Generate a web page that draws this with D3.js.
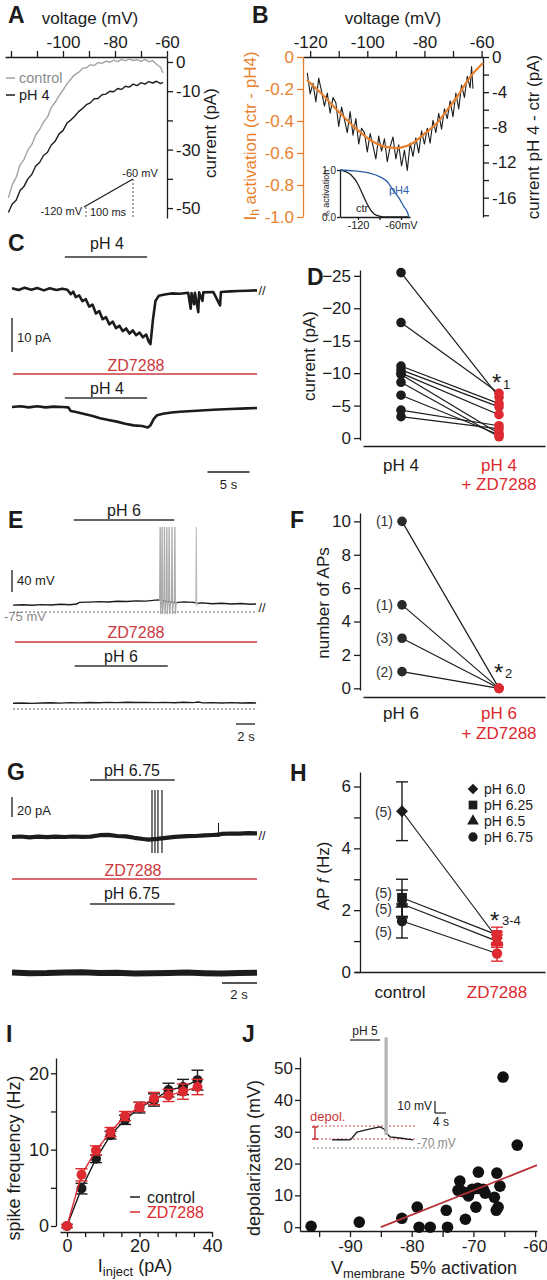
<!DOCTYPE html>
<html><head><meta charset="utf-8">
<script src="https://cdn.jsdelivr.net/npm/d3@7/dist/d3.min.js"></script>
<style>html,body{margin:0;padding:0;background:#fff}svg{display:block}</style>
</head><body>
<svg id="fig" width="547" height="1280"></svg>
<script>
// ================= DATA =================
// Panel A : ramp currents (voltage mV, current pA)
const aVoltage = [-121,-119.5,-118,-116.5,-115,-113.5,-112,-110.5,-109,-107.5,-106,-104.5,-103,-101.5,-100,-98.5,-97,-95.5,-94,-92.5,-91,-89.5,-88,-86.5,-85,-83.5,-82,-80.5,-79,-77.5,-76,-74.5,-73,-71.5,-70,-68.5,-67,-65.5,-64,-62.5,-61.5];
const aControl = [-46.5,-42.0,-39.5,-35.2,-33.4,-30.1,-28.3,-25.0,-23.1,-20.6,-18.9,-15.6,-13.8,-11.5,-9.6,-7.5,-5.9,-4.3,-3.6,-2.2,-2.0,-1.0,-1.2,-0.2,-0.5,0.3,-0.1,0.6,0.1,0.9,0.4,1.0,0.5,0.8,0.2,0.9,0.1,0.4,-0.8,-1.8,-3.8];
const aPH4 = [-51.5,-48.6,-47.3,-44.0,-42.6,-40.0,-38.5,-35.6,-34.4,-32.0,-31.0,-28.4,-27.1,-24.6,-23.5,-21.0,-19.9,-18.6,-17.0,-15.9,-14.6,-14.0,-12.6,-12.5,-11.2,-11.0,-10.0,-10.2,-9.1,-9.4,-8.3,-8.6,-7.6,-8.1,-7.1,-7.6,-6.7,-7.2,-6.6,-7.4,-7.0];
const aTicksV = [-120,-110,-100,-90,-80,-70,-60], aLabelsV = [-100,-80,-60];
const aTicksI = [0,-10,-20,-30,-40,-50], aLabelsI = [0,-10,-30,-50];
const aRampT = [0,100], aRampV = [-120,-60];

// Panel B : difference current and Ih activation fit
const bVoltage = [-121,-120,-119,-118,-117,-116,-115,-114,-113,-112,-111,-110,-109,-108,-107,-106,-105,-104,-103,-102,-101,-100,-99,-98,-97,-96,-95,-94,-93,-92,-91,-90,-89,-88,-87,-86,-85,-84,-83,-82,-81,-80,-79,-78,-77,-76,-75,-74,-73,-72,-71,-70,-69,-68,-67,-66,-65,-64,-63.5,-63];
const bDiff = [-1.8,-4.2,-3.0,-5.1,-2.4,-3.9,-5.6,-4.1,-6.4,-4.6,-5.2,-7.9,-5.7,-7.1,-8.6,-6.2,-8.9,-7.0,-9.9,-8.1,-8.6,-10.8,-8.7,-10.1,-11.6,-9.0,-10.7,-9.3,-11.9,-10.2,-9.1,-11.6,-10.0,-12.4,-10.6,-12.9,-9.8,-11.3,-9.2,-10.9,-8.4,-9.9,-8.1,-9.8,-7.2,-8.6,-6.4,-8.2,-5.9,-7.0,-5.0,-6.8,-4.1,-5.9,-3.2,-4.6,-2.2,-3.5,-1.1,-3.6];
const bFitV = [-121.1,-116,-110.6,-105,-99,-94,-89.6,-86,-84,-80,-75.6,-72,-68.6,-64,-59.5];
const bFitAct = [-0.144,-0.23,-0.331,-0.43,-0.519,-0.56,-0.569,-0.555,-0.5375,-0.48,-0.4125,-0.33,-0.25,-0.125,-0.0375];
const bTicksV = [-120,-110,-100,-90,-80,-70,-60], bLabelsV = [-120,-100,-80,-60];
const bTicksAct = [0,-0.2,-0.4,-0.6,-0.8,-1.0];
const bTicksI = [0,-2,-4,-6,-8,-10,-12,-14,-16,-18], bLabelsI = [0,-4,-8,-12,-16];
const bInsCtrV = [-145,-140,-130,-122,-116,-112,-107,-102,-97,-90,-80,-50];
const bInsCtr  = [1,0.98,0.9,0.75,0.57,0.43,0.27,0.14,0.06,0.02,0,0];
const bInsPH4V = [-145,-125,-103,-90,-79,-71,-66,-61,-56,-51,-49];
const bInsPH4  = [1,0.98,0.93,0.86,0.75,0.57,0.47,0.36,0.22,0.1,0];

// Panel C : current traces [time s, current pA]
const cTrace1 = [[0,0.2],[0.8,-0.3],[1.5,0.4],[2.3,-0.2],[3.0,0.3],[3.8,-0.4],[4.5,0.2],[5.3,-0.3],[6.0,0.1],[6.6,-0.2],[7.0,-1.5],[7.3,-0.8],[7.6,-2.4],[8.0,-1.9],[8.4,-3.6],[8.8,-3.0],[9.2,-5.2],[9.6,-4.6],[10.0,-7.2],[10.4,-6.5],[10.8,-8.9],[11.2,-8.3],[11.6,-10.4],[12.0,-9.6],[12.4,-11.5],[12.8,-10.8],[13.2,-12.4],[13.6,-11.6],[14.0,-13.1],[14.4,-12.2],[14.8,-13.6],[15.2,-12.8],[15.6,-14.2],[16.0,-13.4],[16.3,-15.5],[16.5,-16.2],[16.8,-9],[17.1,-3.5],[17.5,-2.0],[18.2,-1.6],[19,-1.3],[20,-1.4],[21,-1.1],[21.3,-5.8],[21.4,-1.2],[21.7,-4.5],[21.8,-1.1],[22.2,-6.8],[22.3,-1.0],[22.7,-3.5],[22.8,-1.0],[24,-0.9],[24.8,-4.8],[24.9,-0.9],[26,-0.7],[27,-0.6],[28,-0.5],[29.2,-0.4]];
const cTrace2 = [[0,0],[1,0.2],[2,-0.1],[3,0.2],[4,-0.1],[5,0.1],[6,0],[6.7,-0.1],[7.0,-1.2],[7.5,-1.4],[8.5,-2.0],[9.5,-2.6],[10.5,-3.3],[11.5,-3.8],[12.5,-4.3],[13.5,-4.9],[14.5,-5.4],[15.5,-5.6],[16.2,-6.0],[16.5,-5.4],[16.9,-3.5],[17.3,-2.4],[18,-2.0],[19,-1.6],[20,-1.4],[22,-1.1],[24,-0.8],[26,-0.6],[28,-0.4],[29.2,-0.3]];
const cBar1 = [6.3,16.1], cBar2 = [6.3,16.1];

// Panel D : pH 4 current vs pH 4 + ZD7288 (pA)
const dCategories = ["pH 4","pH 4 + ZD7288"];
const dPH4 = [-25.5,-17.8,-11.1,-10.5,-10.0,-9.8,-8.6,-6.6,-4.3,-3.3];
const dZD  = [-6.3,-6.9,-5.3,-4.8,-3.6,-0.7,-0.2,-0.5,-1.9,-1.4];
const dTicks = [0,-5,-10,-15,-20,-25];

// Panel E : voltage traces [time s, mV]
const eTrace1 = [[0,-62.5],[1,-61.8],[2,-62.6],[3,-61.5],[4,-62.2],[5,-61.0],[6,-61.7],[6.7,-60.5],[7.0,-57.5],[8,-57.0],[9,-56.2],[10,-56.8],[11,-55.5],[12,-55.9],[13,-54.8],[14,-55.3],[15,-53.5],[15.4,-53],[16.2,-56],[17.2,-58],[18,-56.5],[19,-57.5],[19.5,-59],[20,-58.5],[21,-60],[22,-59.2],[23,-60.5],[24,-59.6],[25,-61],[25.6,-60.5]];
const eSpikes1 = [15.5,15.7,15.95,16.2,16.45,16.75,17.05], eSpikeLate = [19.3];
const eTrace2 = [[0,-64.5],[1,-64.0],[2,-64.8],[3,-64.2],[4,-63.6],[5,-64.3],[6,-63.5],[7,-63.9],[8,-63.2],[9,-63.6],[10,-62.9],[11,-63.4],[12,-62.8],[13,-63.3],[14,-62.9],[15,-63.5],[16,-63.0],[17,-63.6],[18,-62.8],[19,-63.5],[19.5,-62.2],[20,-63.8],[21,-63.4],[22,-64.0],[23,-63.5],[24,-64.1],[25,-63.7],[25.6,-64.2]];
const eBar1 = [6.4,17.0], eBar2 = [6.5,16.3];

// Panel F : number of APs
const fCategories = ["pH 6","pH 6 + ZD7288"];
const fPH6 = [10,5,3,1], fZD = [0,0,0,0], fN = ["(1)","(1)","(3)","(2)"];
const fTicks = [0,2,4,6,8,10];

// Panel G : current traces [time s, pA]
const gTrace1 = [[0,0],[0.5,0.5],[1,-0.3],[1.5,0.4],[2,-0.2],[2.5,0.3],[3,0],[3.5,0.5],[4,0.2],[4.5,0.4],[5,1.8],[5.5,2.2],[6,1.0],[6.5,0.6],[7,-0.8],[7.5,-2.0],[7.8,-2.6],[8.3,-1.8],[8.8,-0.8],[9.3,0.2],[10,0.8],[10.5,1.0],[11,1.6],[11.5,2.0],[11.8,2.3],[12,3.2],[12.5,3.5],[13,3.3],[13.5,3.8],[14,3.6]];
const gSpikes = [8.0,8.17,8.34,8.57], gSmallSpike = [11.8];
const gTrace2 = [[0,0.5],[1,-0.2],[2,0],[3,0.6],[4,0.8],[5,0.1],[6,0.2],[7,-0.4],[8,-0.3],[9,0.1],[10,0.4],[11,-0.2],[12,-0.5],[13,0],[14,0.3]];
const gBar1 = [4.46,9.3], gBar2 = [4.46,9.3];

// Panel H : AP frequency (Hz)
const hCategories = ["control","ZD7288"];
const hGroups = ["pH 6.0","pH 6.25","pH 6.5","pH 6.75"];
const hShapes = ["diamond","square","triangle","circle"];
const hCtrl = [5.2,2.4,2.2,1.65], hCtrlErr = [0.95,0.6,0.45,0.55];
const hZD = [1.1,1.2,1.0,0.6], hZDErr = [0.2,0.25,0.2,0.25];
const hN = ["(5)","(5)","(5)","(5)"];
const hTicks = [0,1,2,3,4,5,6], hLabels = [0,2,4,6];

// Panel I : f-I curves
const iCurrent = [0,4,8,12,16,20,24,28,32,36];
const iCtrl = [0,4.9,8.8,11.9,13.9,15.5,16.5,17.8,18.2,19.1];
const iCtrlErr = [0.2,0.7,0.5,0.5,0.6,0.7,0.8,0.9,1.0,1.3];
const iZD = [0,6.7,9.9,12.3,14.4,15.6,16.7,17.1,17.6,18.2];
const iZDErr = [0.2,0.8,0.6,0.6,0.6,0.6,0.8,0.8,1.0,1.0];
const iTicksX = [0,5,10,15,20,25,30,35,40], iLabelsX = [0,20,40];
const iTicksY = [0,5,10,15,20], iLabelsY = [0,10,20];

// Panel J : depolarization vs V 5% activation
const jV = [-96.3,-88.5,-81.6,-79.1,-78.8,-77,-74.4,-74.2,-72.2,-72.5,-71.3,-71,-69.2,-69.6,-70.2,-68.4,-68.1,-69.3,-66.2,-66.6,-66.3,-66,-65.7,-62.9,-65.2,-70.8,-71.8];
const jDep = [0.3,1.6,2.8,6.3,0,0,5.3,0,14.5,11.6,2.5,10.7,17.3,6.3,11.9,11.9,10.7,12.2,17,9.4,5.3,6.3,12.9,25.8,47.2,9.8,11.2];
const jFitV = [-85,-59.7], jFitDep = [0,19.5];
const jTicksX = [-95,-90,-85,-80,-75,-70,-65,-60], jLabelsX = [-90,-80,-70,-60];
const jTicksY = [0,10,20,30,40,50];
const jInsTrace = [[0,-63.8],[3,-63.6],[7.2,-63.8],[8,-62.3],[10,-57.7],[13.2,-56.2],[17.2,-54.6],[19.2,-53.8],[20.8,-55.4],[21.6,-58],[23.2,-61.5],[27.2,-62.3],[32.4,-63.8]];
const jInsSpikes = [21.4,21.9], jInsBar = [7.2,19.2];

// ================= DRAW =================
const svg = d3.select("#fig");
svg.append("rect").attr("width",547).attr("height",1280).attr("fill","#fff");
const FONT = '"Liberation Sans", Arial, Helvetica, sans-serif';
const INK = "#1c1c1c", RED = "#dd2a30", REDL = "#cc3940", ORANGE = "#e8812e", BLUE = "#2c5ea8", GRAY = "#9c9c9c";

function T(x, y, s, o = {}) {
  const size = o.size || 17;
  const t = svg.append("text").attr("x", x).attr("y", y)
    .attr("font-family", FONT).attr("font-size", size)
    .attr("fill", o.color || INK).attr("text-anchor", o.anchor || "start");
  if (!o.baseline) t.attr("dominant-baseline", "central");
  if (o.bold) t.attr("font-weight", "bold");
  if (o.rot) t.attr("transform", `rotate(${o.rot},${x},${y})`);
  if (Array.isArray(s)) {
    let shifted = 0;
    s.forEach(p => {
      const ts = t.append("tspan").text(p.t);
      if (p.sub) { ts.attr("font-size", p.fs || size * 0.7).attr("dy", (p.dy || 5) - shifted); shifted = p.dy || 5; }
      else if (shifted) { ts.attr("dy", -shifted); shifted = 0; }
      if (p.it) ts.attr("font-style", "italic");
    });
  } else t.text(s);
  return t;
}
function axis(gen, tx, ty, color = INK, size = 17) {
  const g = svg.append("g").attr("transform", `translate(${tx},${ty})`).call(gen)
    .attr("font-family", FONT).attr("font-size", size);
  g.select(".domain").attr("stroke", color).attr("stroke-width", 1.3);
  g.selectAll(".tick line").attr("stroke", color).attr("stroke-width", 1.3);
  g.selectAll(".tick text").attr("fill", color);
  return g;
}
const lab = (list, f = String) => d => list.includes(d) ? f(d) : "";
function L(x1, y1, x2, y2, color = INK, w = 1.3, dash) {
  const l = svg.append("line").attr("x1", x1).attr("y1", y1).attr("x2", x2).attr("y2", y2)
    .attr("stroke", color).attr("stroke-width", w);
  if (dash) l.attr("stroke-dasharray", dash);
  return l;
}
function P(d, color = INK, w = 1.3) {
  return svg.append("path").attr("d", d).attr("fill", "none").attr("stroke", color)
    .attr("stroke-width", w).attr("stroke-linejoin", "round");
}
const lineXY = (xs, ys, sx, sy, curve = d3.curveLinear) =>
  d3.line().x((d, i) => sx(xs[i])).y((d, i) => sy(ys[i])).curve(curve)(xs);
const linePairs = (pts, sx, sy) => d3.line().x(d => sx(d[0])).y(d => sy(d[1]))(pts);

// ---------- Panel A ----------
T(8, 15, "A", {size: 23, bold: true});
T(90, 18, "voltage (mV)", {anchor: "middle"});
const aX = d3.scaleLinear([-122.3, -60], [5, 167]);
const aY = d3.scaleLinear([1.7, -53.4], [57, 218]);
axis(d3.axisTop(aX).tickValues(aTicksV).tickFormat(lab(aLabelsV)).tickSize(6).tickSizeOuter(0), 0, 57);
axis(d3.axisRight(aY).tickValues(aTicksI).tickFormat(lab(aLabelsI)).tickSize(6).tickSizeOuter(0), 167, 0);
T(210, 133, "current (pA)", {anchor: "middle", rot: -90});
P(lineXY(aVoltage, aControl, aX, aY), "#a3a3a3", 1.4);
P(lineXY(aVoltage, aPH4, aX, aY), INK, 1.4);
L(6, 78, 15, 78, "#a3a3a3", 1.5); T(19, 78, "control", {color: "#8c8c8c", size: 14.5});
L(6, 95, 15, 95, INK, 1.5); T(19, 95, "pH 4", {size: 14.5});
// voltage ramp protocol inset
const rX = d3.scaleLinear([0, 100], [84, 133]);
const rY = d3.scaleLinear([-120, -60], [207, 179]);
P(lineXY(aRampT, aRampV, rX, rY), INK, 1.2);
L(rX(100), rY(-60), rX(100), 217, "#555", 1, "2,2");
L(rX(0) + 2, rY(-120), rX(0) + 2, 217, "#555", 1, "2,2");
T(140, 173, "-60 mV", {size: 11, anchor: "middle"});
T(82, 211, "-120 mV", {size: 11, anchor: "end"});
T(90, 212, "100 ms", {size: 11});

// ---------- Panel B ----------
T(252, 15, "B", {size: 23, bold: true});
T(393, 18, "voltage (mV)", {anchor: "middle"});
const bX = d3.scaleLinear([-122.5, -59.5], [303, 483]);
const bA = d3.scaleLinear([0, -1], [57, 217]);
const bI = d3.scaleLinear([0, -18.2], [57, 217]);
axis(d3.axisTop(bX).tickValues(bTicksV).tickFormat(lab(bLabelsV)).tickSize(6).tickSizeOuter(0), 0, 57);
axis(d3.axisLeft(bA).tickValues(bTicksAct).tickFormat(d => d === 0 ? "0" : d.toFixed(1)).tickSize(6).tickSizeOuter(0), 303, 0, ORANGE);
axis(d3.axisRight(bI).tickValues(bTicksI).tickFormat(lab(bLabelsI)).tickSize(6).tickSizeOuter(0), 483, 0);
T(250, 136, [{t: "I"}, {t: "h", sub: true, fs: 12}, {t: " activation (ctr - pH4)"}], {anchor: "middle", rot: -90, color: ORANGE});
T(533, 137, "current pH 4 - ctr (pA)", {anchor: "middle", rot: -90});
P(lineXY(bVoltage, bDiff, bX, bI), INK, 1.1);
P(lineXY(bFitV, bFitAct, bX, bA, d3.curveMonotoneX), ORANGE, 2.2);
// inset
const ibX = d3.scaleLinear([-145.1, -47.4], [340, 410]);
const ibY = d3.scaleLinear([0, 1], [217, 170]);
axis(d3.axisLeft(ibY).tickValues([0, 1]).tickSize(3).tickPadding(1).tickSizeOuter(0), 340, 0, INK, 10);
axis(d3.axisBottom(ibX).tickValues([-120, -90, -60]).tickFormat(d => d === -120 ? "-120" : d === -60 ? "-60mV" : "").tickSize(3).tickPadding(1).tickSizeOuter(0), 0, 217, INK, 11);
P(lineXY(bInsCtrV, bInsCtr, ibX, ibY, d3.curveMonotoneX), INK, 1.3);
P(lineXY(bInsPH4V, bInsPH4, ibX, ibY, d3.curveMonotoneX), BLUE, 1.3);
T(326, 193, [{t: "I"}, {t: "h", sub: true, fs: 6, dy: 2}, {t: " activation"}], {size: 9, anchor: "middle", rot: -90});
T(362, 208, "ctr", {size: 11, anchor: "middle"});
T(399, 190, "pH4", {size: 11, anchor: "middle", color: BLUE});

// ---------- Panel C ----------
T(8, 243, "C", {size: 23, bold: true});
const cX = d3.scaleLinear([0, 29.2], [12, 257]);
const cY1 = d3.scaleLinear([0, -10], [289, 323]);
const cY2 = d3.scaleLinear([0, -10], [407, 441]);
T(107, 243, "pH 4", {anchor: "middle", size: 16});
L(cX(cBar1[0]), 257, cX(cBar1[1]), 257, "#333", 1.3);
P(linePairs(cTrace1, cX, cY1), INK, 2.6);
T(262, 290, "//", {size: 13, anchor: "middle"});
L(12, 318, 12, 352, INK, 1.3);
T(17, 337, "10 pA", {size: 13});
T(136, 365, "ZD7288", {anchor: "middle", size: 16, color: REDL});
L(13, 374, 257, 374, REDL, 1.4);
T(107, 388, "pH 4", {anchor: "middle", size: 16});
L(cX(cBar2[0]), 398, cX(cBar2[1]), 398, "#333", 1.3);
P(linePairs(cTrace2, cX, cY2), INK, 2.6);
L(cX(23.3), 472, cX(28.3), 472, INK, 1.3);
T(cX(25.8), 484, "5 s", {size: 13, anchor: "middle"});

// ---------- Panel D ----------
T(307, 277, "D", {size: 23, bold: true});
const dY = d3.scaleLinear([0.3, -25.9], [440, 270]);
const dXc = d3.scalePoint(dCategories, [401, 499]);
axis(d3.axisLeft(dY).tickValues(dTicks).tickSize(6).tickSizeOuter(0), 360, 0);
axis(d3.axisBottom(d3.scaleLinear([0, 1], [363, 545])).tickValues([]).tickSizeOuter(0), 0, 446);
T(309, 356, "current (pA)", {anchor: "middle", rot: -90});
dPH4.forEach((v, i) => L(dXc(dCategories[0]), dY(v), dXc(dCategories[1]), dY(dZD[i]), INK, 1.2));
svg.append("g").selectAll("circle").data(dPH4).join("circle").attr("cx", dXc(dCategories[0])).attr("cy", d => dY(d)).attr("r", 4.8).attr("fill", INK);
svg.append("g").selectAll("circle").data(dZD).join("circle").attr("cx", dXc(dCategories[1])).attr("cy", d => dY(d)).attr("r", 4.8).attr("fill", RED);
T(401, 465, "pH 4", {anchor: "middle"});
T(499, 465, "pH 4", {anchor: "middle", color: RED});
T(499, 484, "+ ZD7288", {anchor: "middle", color: RED});
T(492, 391, "*", {size: 24, baseline: true});
T(503, 389, "1", {size: 13, baseline: true});

// ---------- Panel E ----------
T(8, 520, "E", {size: 23, bold: true});
const eX = d3.scaleLinear([0, 25.7], [13, 257]);
const eY1 = d3.scaleLinear([-75, -35], [612, 590]);
const eY2 = d3.scaleLinear([-75, -35], [709, 687]);
T(124, 510, "pH 6", {anchor: "middle", size: 16});
L(eX(eBar1[0]), 520, eX(eBar1[1]), 520, "#333", 1.3);
L(12, 570, 12, 592, INK, 1.3);
T(17, 580, "40 mV", {size: 13});
L(13, 612, 257, 612, "#999", 1.3, "2,2");
P(linePairs(eTrace1, eX, eY1), INK, 1.4);
const spike = (t, base, peak, trough, sx, sy) =>
  `M${sx(t - 0.05)},${sy(base)}L${sx(t)},${sy(peak)}L${sx(t + 0.05)},${sy(trough)}L${sx(t + 0.15)},${sy(base)}`;
eSpikes1.forEach(t => P(spike(t, -56, 79, -78, eX, eY1), "#aaa", 1.3));
eSpikeLate.forEach(t => P(spike(t, -58, 79, -64, eX, eY1), "#bbb", 1.1));
T(4, 616, "-75 mV", {size: 13, color: "#888"});
T(262, 607, "//", {size: 13, anchor: "middle"});
T(136, 632, "ZD7288", {anchor: "middle", size: 16, color: REDL});
L(15, 642, 257, 642, REDL, 1.4);
T(121, 656, "pH 6", {anchor: "middle", size: 16});
L(eX(eBar2[0]), 666, eX(eBar2[1]), 666, "#333", 1.3);
L(13, 709, 257, 709, "#999", 1.3, "2,2");
P(linePairs(eTrace2, eX, eY2), INK, 1.4);
L(236, 724, 255, 724, INK, 1.3);
T(246, 736, "2 s", {size: 13, anchor: "middle"});

// ---------- Panel F ----------
T(290, 520, "F", {size: 23, bold: true});
const fY = d3.scaleLinear([-0.1, 10.5], [690, 513]);
const fXc = d3.scalePoint(fCategories, [402, 499]);
axis(d3.axisLeft(fY).tickValues(fTicks).tickSize(6).tickSizeOuter(0), 360, 0);
axis(d3.axisBottom(d3.scaleLinear([0, 1], [363, 545])).tickValues([]).tickSizeOuter(0), 0, 697);
T(323, 603, "number of APs", {anchor: "middle", rot: -90});
fPH6.forEach((v, i) => L(fXc(fCategories[0]), fY(v), fXc(fCategories[1]), fY(fZD[i]), INK, 1.2));
svg.append("g").selectAll("circle").data(fPH6).join("circle").attr("cx", fXc(fCategories[0])).attr("cy", d => fY(d)).attr("r", 4.8).attr("fill", "#2a2a2a");
svg.append("g").selectAll("circle").data(fZD).join("circle").attr("cx", fXc(fCategories[1])).attr("cy", d => fY(d)).attr("r", 4.8).attr("fill", RED);
fPH6.forEach((v, i) => T(393, fY(v), fN[i], {size: 14, anchor: "end", color: "#333"}));
T(401, 713, "pH 6", {anchor: "middle"});
T(499, 713, "pH 6", {anchor: "middle", color: RED});
T(499, 733, "+ ZD7288", {anchor: "middle", color: RED});
T(494, 681, "*", {size: 24, baseline: true});
T(505, 678, "2", {size: 13, baseline: true});

// ---------- Panel G ----------
T(7, 772, "G", {size: 23, bold: true});
const gX = d3.scaleLinear([0, 14], [12, 257]);
const gY1 = d3.scaleLinear([0, 20], [837, 817]);
const gY2 = d3.scaleLinear([0, 20], [973, 953]);
T(132, 770, "pH 6.75", {anchor: "middle", size: 16});
L(gX(gBar1[0]), 780, gX(gBar1[1]), 780, "#333", 1.3);
L(12, 797, 12, 817, INK, 1.3);
T(17, 810, "20 pA", {size: 13});
P(linePairs(gTrace1, gX, gY1), INK, 4.2);
gSpikes.forEach(t => L(gX(t), gY1(47), gX(t), gY1(-16), INK, 1.2));
gSmallSpike.forEach(t => L(gX(t), gY1(14), gX(t), gY1(0), INK, 1.1));
T(262, 835, "//", {size: 13, anchor: "middle"});
T(133, 870, "ZD7288", {anchor: "middle", size: 16, color: REDL});
L(12, 879, 257, 879, REDL, 1.4);
T(132, 893, "pH 6.75", {anchor: "middle", size: 16});
L(gX(gBar2[0]), 904, gX(gBar2[1]), 904, "#333", 1.3);
P(linePairs(gTrace2, gX, gY2), INK, 6);
L(222, 983, 257, 983, INK, 1.3);
T(239, 994, "2 s", {size: 13, anchor: "middle"});

// ---------- Panel H ----------
T(290, 773, "H", {size: 23, bold: true});
const hY = d3.scaleLinear([0, 6.47], [972, 772]);
const hXc = d3.scalePoint(hCategories, [402, 497]);
axis(d3.axisLeft(hY).tickValues(hTicks).tickFormat(lab(hLabels)).tickSize(6).tickSizeOuter(0), 360, 0);
axis(d3.axisBottom(d3.scaleLinear([0, 1], [355, 545])).tickValues([]).tickSizeOuter(0), 0, 972);
T(323, 876, [{t: "AP "}, {t: "f", it: true}, {t: " (Hz)"}], {anchor: "middle", rot: -90});
const symType = {diamond: d3.symbolSquare, square: d3.symbolSquare, triangle: d3.symbolTriangle, circle: d3.symbolCircle};
const symSize = {diamond: 70, square: 95, triangle: 75, circle: 85};
function sym(shape, x, y, color, scale = 1) {
  const p = svg.append("path").attr("d", d3.symbol().type(symType[shape]).size(symSize[shape] * scale)())
    .attr("fill", color);
  p.attr("transform", `translate(${x},${y})` + (shape === "diamond" ? " rotate(45)" : ""));
}
function errbar(x, m, e, sy, color) {
  L(x, sy(m - e), x, sy(m + e), color, 1.4);
  L(x - 6, sy(m + e), x + 6, sy(m + e), color, 1.4);
  L(x - 6, sy(m - e), x + 6, sy(m - e), color, 1.4);
}
hCtrl.forEach((v, i) => L(hXc("control"), hY(v), hXc("ZD7288"), hY(hZD[i]), INK, 1.2));
hCtrl.forEach((v, i) => errbar(hXc("control"), v, hCtrlErr[i], hY, INK));
hZD.forEach((v, i) => errbar(hXc("ZD7288"), v, hZDErr[i], hY, RED));
hCtrl.forEach((v, i) => sym(hShapes[i], hXc("control"), hY(v), INK));
hZD.forEach((v, i) => sym(hShapes[i], hXc("ZD7288"), hY(v), RED));
const hNy = [812, 893, 909, 932];
hN.forEach((n, i) => T(392, hNy[i], n, {size: 14, anchor: "end", color: "#333"}));
hGroups.forEach((g, i) => { sym(hShapes[i], 473, 789 + i * 16, INK, 0.8); T(484, 789 + i * 16, g, {size: 14}); });
T(400, 992, "control", {anchor: "middle"});
T(497, 992, "ZD7288", {anchor: "middle", color: RED});
T(490, 929, "*", {size: 24, baseline: true});
T(502, 925, "3-4", {size: 13, baseline: true});

// ---------- Panel I ----------
T(6, 1034, "I", {size: 23, bold: true});
const iX = d3.scaleLinear([-1.93, 40], [60, 212]);
const iY = d3.scaleLinear([0, 22], [1226, 1058]);
axis(d3.axisLeft(iY).tickValues(iTicksY).tickFormat(lab(iLabelsY)).tickSize(5).tickPadding(2).tickSizeOuter(0), 56, 0, INK, 18);
axis(d3.axisBottom(iX).tickValues(iTicksX).tickFormat(lab(iLabelsX)).tickSize(5).tickPadding(2).tickSizeOuter(0), 0, 1232, INK, 18);
T(14, 1158, "spike frequency (Hz)", {anchor: "middle", rot: -90, size: 18});
T(135, 1266, [{t: "I"}, {t: "inject", sub: true, fs: 13}, {t: " (pA)"}], {anchor: "middle", size: 18});
P(lineXY(iCurrent, iCtrl, iX, iY), INK, 1.4);
iCurrent.forEach((c, i) => errbar(iX(c), iCtrl[i], iCtrlErr[i], iY, INK));
svg.append("g").selectAll("circle").data(iCtrl).join("circle").attr("cx", (d, i) => iX(iCurrent[i])).attr("cy", d => iY(d)).attr("r", 5).attr("fill", INK);
P(lineXY(iCurrent, iZD, iX, iY), RED, 1.4);
iCurrent.forEach((c, i) => errbar(iX(c), iZD[i], iZDErr[i], iY, RED));
svg.append("g").selectAll("circle").data(iZD).join("circle").attr("cx", (d, i) => iX(iCurrent[i])).attr("cy", d => iY(d)).attr("r", 5).attr("fill", RED);
L(130, 1197, 140, 1197, INK, 1.5); T(147, 1197, "control", {size: 16});
L(130, 1212, 140, 1212, RED, 1.5); T(147, 1212, "ZD7288", {size: 16, color: RED});

// ---------- Panel J ----------
T(242, 1034, "J", {size: 23, bold: true});
const jX = d3.scaleLinear([-98.1, -59.7], [300, 537]);
const jY = d3.scaleLinear([-1.2, 53.5], [1231, 1057]);
axis(d3.axisLeft(jY).tickValues(jTicksY).tickSize(5).tickPadding(2).tickSizeOuter(0), 300, 0, INK, 17);
axis(d3.axisBottom(jX).tickValues(jTicksX).tickFormat(lab(jLabelsX)).tickSize(6).tickSizeOuter(0), 0, 1231, INK, 17);
T(254, 1158, "depolarization (mV)", {anchor: "middle", rot: -90, size: 18});
T(424, 1268, [{t: "V"}, {t: "membrane", sub: true, fs: 13}, {t: " 5% activation"}], {anchor: "middle", size: 18});
svg.append("g").selectAll("circle").data(jDep).join("circle").attr("cx", (d, i) => jX(jV[i])).attr("cy", d => jY(d)).attr("r", 5.8).attr("fill", "#111");
P(lineXY(jFitV, jFitDep, jX, jY), "#b8323a", 1.8);
// inset trace
const jtX = d3.scaleLinear([0, 32], [332, 412]);
const jtY = d3.scaleLinear([-70, -60], [1148, 1135]);
T(365, 1031, "pH 5", {size: 12, anchor: "middle"});
L(jtX(jInsBar[0]), 1040, jtX(jInsBar[1]), 1040, INK, 1.2);
L(313, 1126, 415, 1126, "#d0464c", 1.2, "2,2");
L(313, 1139, 415, 1139, "#d0464c", 1.2, "2,2");
L(313, 1148, 452, 1148, "#888", 1.2, "2,2");
L(315, 1127, 315, 1139, "#c8353c", 1.5); L(312, 1127, 318, 1127, "#c8353c", 1.5); L(312, 1139, 318, 1139, "#c8353c", 1.5);
T(310, 1116, "depol.", {size: 13, color: "#c8353c"});
P(linePairs(jInsTrace, jtX, jtY), INK, 1.3);
jInsSpikes.forEach(t => L(jtX(t), jtY(15), jtX(t), jtY(-60), "#b5b5b5", 2));
T(417, 1143, "-70 mV", {size: 12, color: "#888"});
L(435, 1101, 435, 1113, INK, 1.2); L(435, 1113, 446, 1113, INK, 1.2);
T(432, 1106, "10 mV", {size: 12, anchor: "end"});
T(441, 1122, "4 s", {size: 12, anchor: "middle"});
</script>
</body></html>
